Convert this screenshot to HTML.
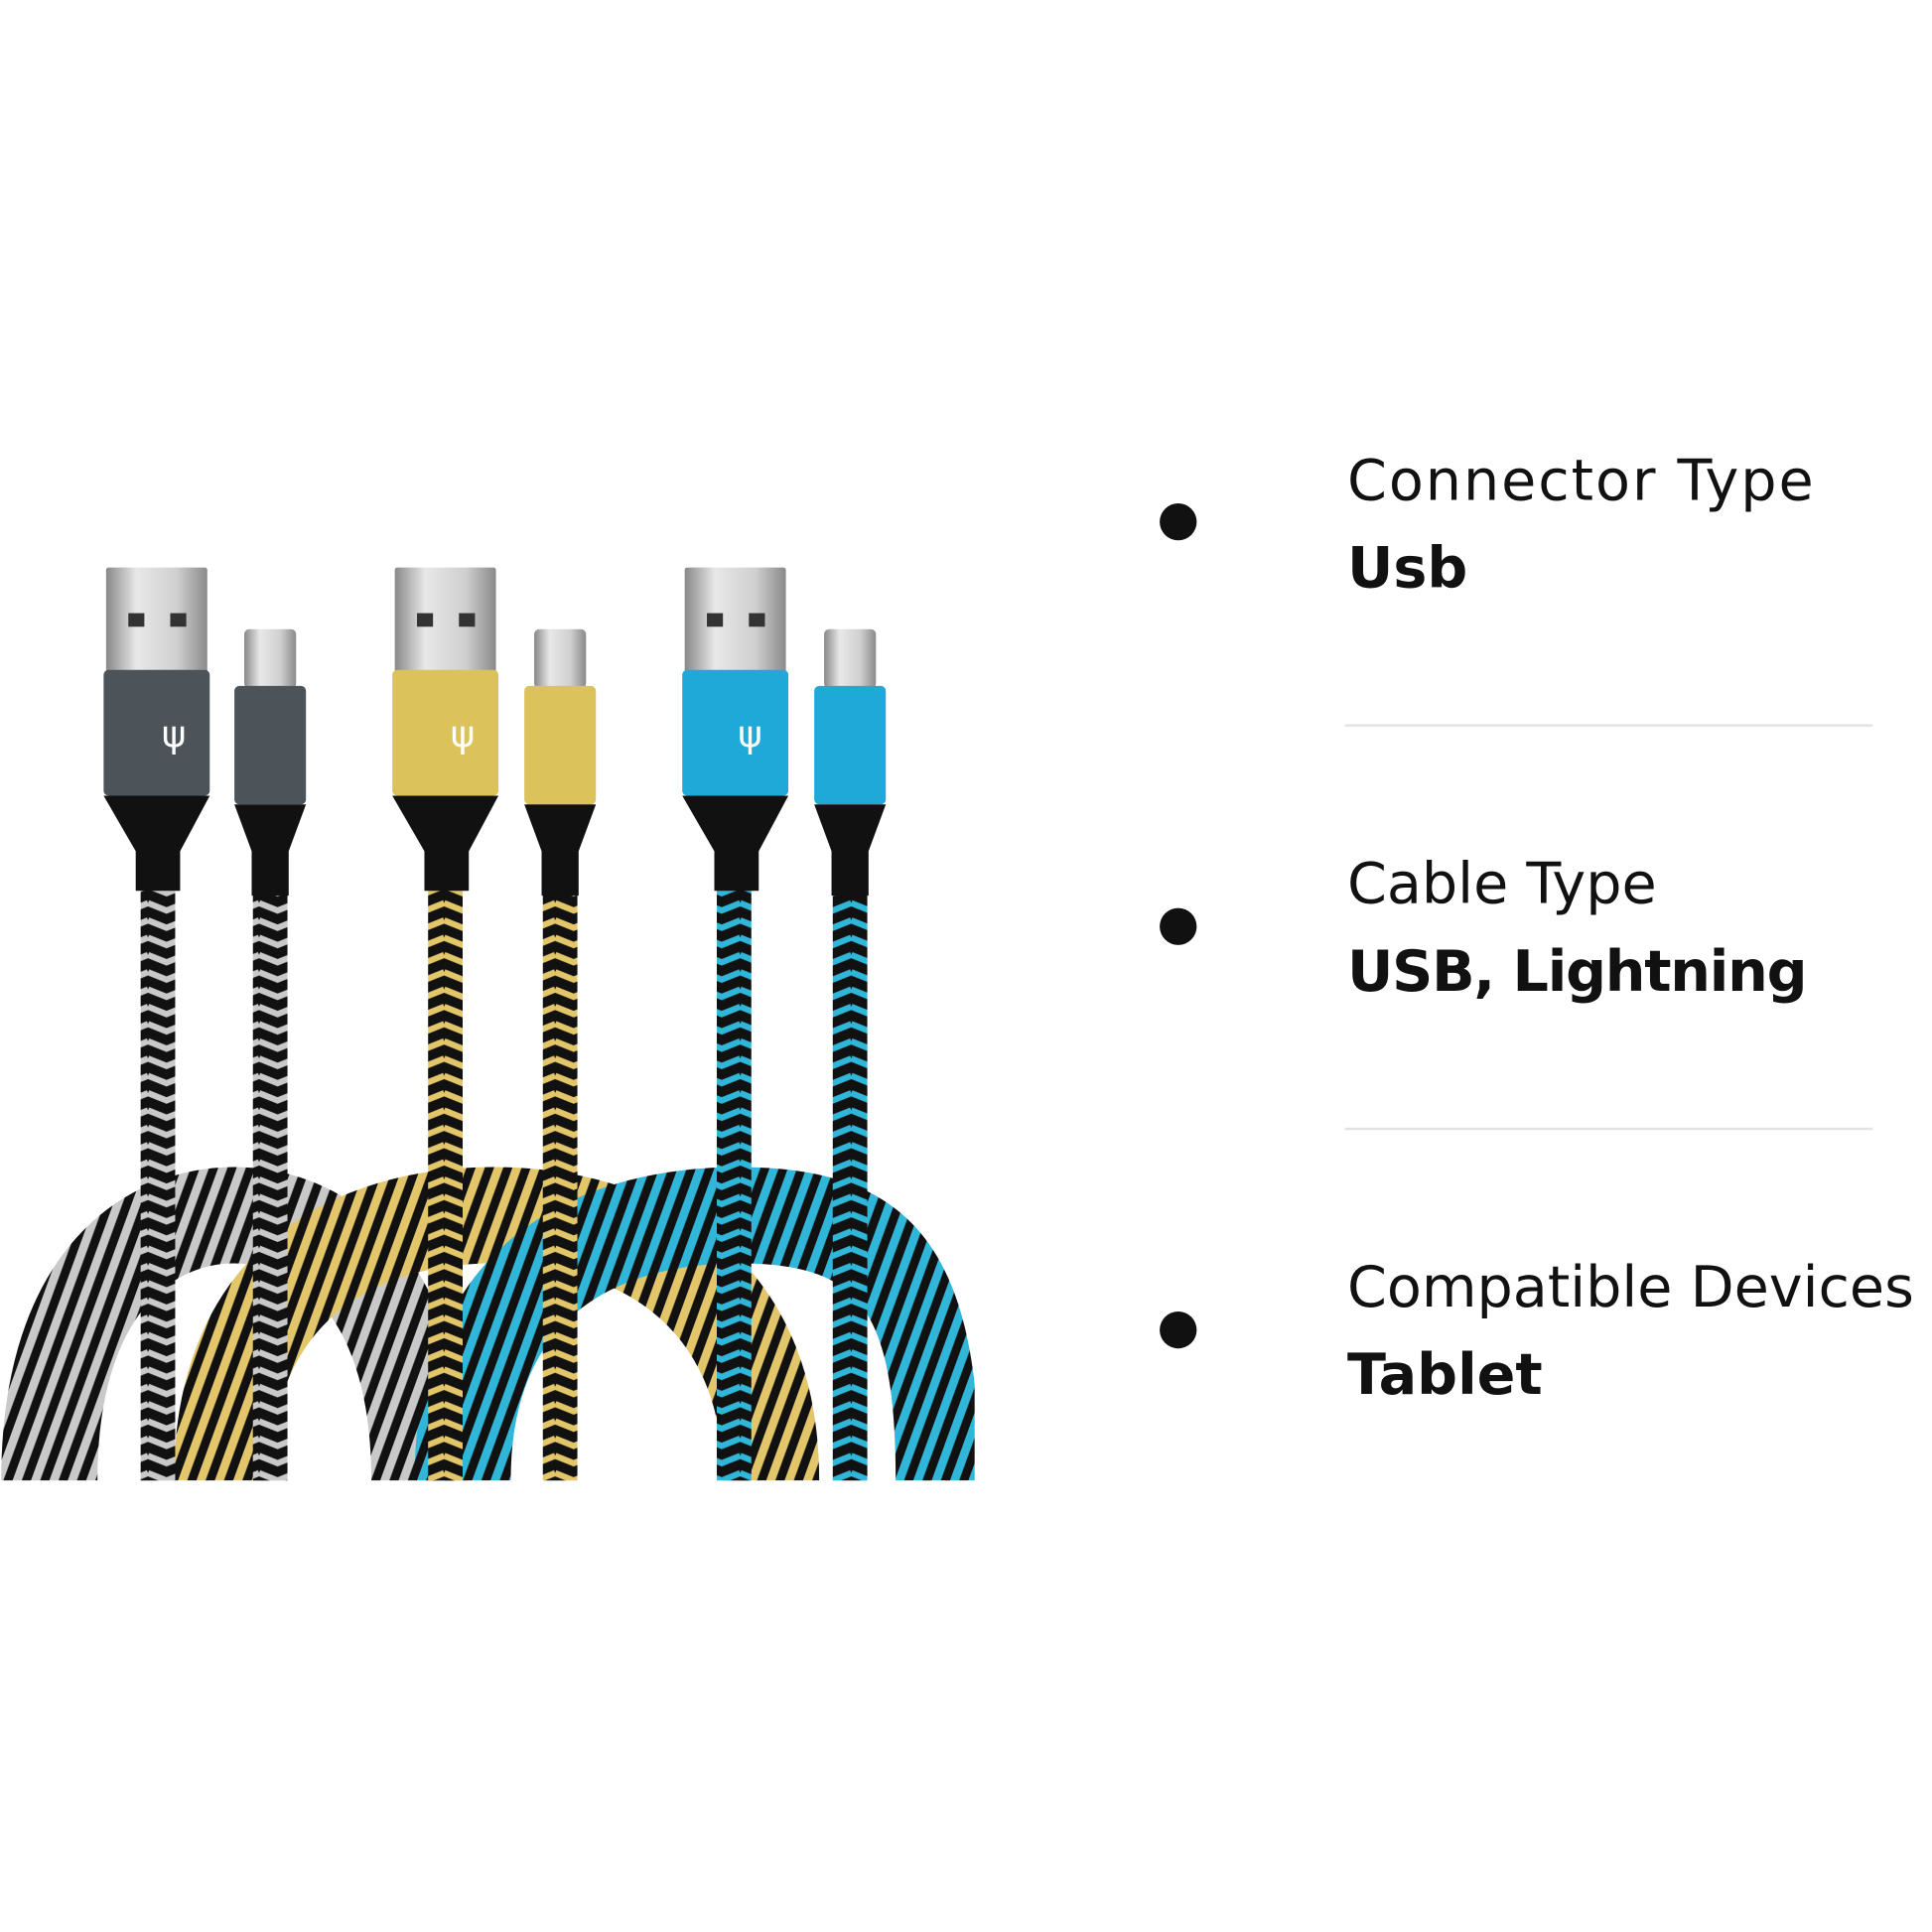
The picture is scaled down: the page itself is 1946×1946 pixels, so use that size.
<!DOCTYPE html>
<html><head><meta charset="utf-8"><style>
html,body{margin:0;padding:0;background:#fff;}
svg{display:block}
</style></head><body>
<svg width="1946" height="1946" viewBox="0 0 1566 1566" xmlns="http://www.w3.org/2000/svg">
<defs>
<pattern id="pg" width="30" height="14" patternUnits="userSpaceOnUse"><rect width="30" height="14" fill="#111"/><path d="M0 4 L15 10 L30 4" stroke="#c9c9c9" stroke-width="5" fill="none"/></pattern>
<pattern id="py" width="30" height="14" patternUnits="userSpaceOnUse"><rect width="30" height="14" fill="#111"/><path d="M0 4 L15 10 L30 4" stroke="#e3c66a" stroke-width="5" fill="none"/></pattern>
<pattern id="pb" width="30" height="14" patternUnits="userSpaceOnUse"><rect width="30" height="14" fill="#111"/><path d="M0 4 L15 10 L30 4" stroke="#2fb6d8" stroke-width="5" fill="none"/></pattern>
<pattern id="pgr" width="14" height="30" patternUnits="userSpaceOnUse" patternTransform="rotate(20)"><rect width="14" height="30" fill="#111"/><rect width="7" height="30" fill="#c9c9c9"/></pattern>
<pattern id="pyr" width="14" height="30" patternUnits="userSpaceOnUse" patternTransform="rotate(20)"><rect width="14" height="30" fill="#111"/><rect width="7" height="30" fill="#e3c66a"/></pattern>
<pattern id="pbr" width="14" height="30" patternUnits="userSpaceOnUse" patternTransform="rotate(20)"><rect width="14" height="30" fill="#111"/><rect width="7" height="30" fill="#2fb6d8"/></pattern>
<linearGradient id="metal" x1="0" x2="1"><stop offset="0" stop-color="#888"/><stop offset=".3" stop-color="#e8e8e8"/><stop offset=".7" stop-color="#cfcfcf"/><stop offset="1" stop-color="#8a8a8a"/></linearGradient>
<clipPath id="c"><rect x="0" y="375" width="790" height="825"/></clipPath>
</defs>
<g clip-path="url(#c)">
<g fill="none" stroke-width="28">
<path d="M15 1200 C15 1020 110 960 190 960 C270 960 365 1020 365 1200" stroke="url(#pgr)"/>
<path d="M40 1200 C40 1040 120 985 190 985 C260 985 340 1040 340 1200" stroke="url(#pgr)"/>
<path d="M65 1200 C65 1060 130 1010 190 1010 C250 1010 315 1060 315 1200" stroke="url(#pgr)"/>
<path d="M155 1200 C155 1020 280 960 400 960 C520 960 650 1020 650 1200" stroke="url(#pyr)"/>
<path d="M180 1200 C180 1040 290 985 400 985 C510 985 625 1040 625 1200" stroke="url(#pyr)"/>
<path d="M205 1200 C205 1060 300 1010 400 1010 C500 1010 600 1060 600 1200" stroke="url(#pyr)"/>
<path d="M350 1200 C350 1020 470 960 600 960 C730 960 780 1020 780 1200" stroke="url(#pbr)"/>
<path d="M375 1200 C375 1040 480 985 600 985 C720 985 760 1040 760 1200" stroke="url(#pbr)"/>
<path d="M400 1200 C400 1060 490 1010 600 1010 C710 1010 740 1060 740 1200" stroke="url(#pbr)"/>
</g>
<rect x="114" y="715" width="28" height="490" fill="url(#pg)"/>
<rect x="205" y="720" width="28" height="485" fill="url(#pg)"/>
<rect x="347" y="715" width="28" height="490" fill="url(#py)"/>
<rect x="440" y="720" width="28" height="485" fill="url(#py)"/>
<rect x="581" y="715" width="28" height="490" fill="url(#pb)"/>
<rect x="675" y="720" width="28" height="485" fill="url(#pb)"/>
</g>
<rect x="86" y="460" width="82" height="85" fill="url(#metal)" rx="2"/>
<rect x="104" y="497" width="13" height="11" fill="#333"/><rect x="138" y="497" width="13" height="11" fill="#333"/>
<rect x="84" y="543" width="86" height="102" fill="#4c5359" rx="4"/>
<path d="M84 645 H170 L146 690 V722 H110 V690 Z" fill="#111"/>
<rect x="198" y="510" width="42" height="48" fill="url(#metal)" rx="4"/>
<rect x="190" y="556" width="58" height="96" fill="#4c5359" rx="4"/>
<path d="M190 652 H248 L234 690 V726 H204 V690 Z" fill="#111"/>
<rect x="320" y="460" width="82" height="85" fill="url(#metal)" rx="2"/>
<rect x="338" y="497" width="13" height="11" fill="#333"/><rect x="372" y="497" width="13" height="11" fill="#333"/>
<rect x="318" y="543" width="86" height="102" fill="#dcc25a" rx="4"/>
<path d="M318 645 H404 L380 690 V722 H344 V690 Z" fill="#111"/>
<rect x="433" y="510" width="42" height="48" fill="url(#metal)" rx="4"/>
<rect x="425" y="556" width="58" height="96" fill="#dcc25a" rx="4"/>
<path d="M425 652 H483 L469 690 V726 H439 V690 Z" fill="#111"/>
<rect x="555" y="460" width="82" height="85" fill="url(#metal)" rx="2"/>
<rect x="573" y="497" width="13" height="11" fill="#333"/><rect x="607" y="497" width="13" height="11" fill="#333"/>
<rect x="553" y="543" width="86" height="102" fill="#1ea9d8" rx="4"/>
<path d="M553 645 H639 L615 690 V722 H579 V690 Z" fill="#111"/>
<rect x="668" y="510" width="42" height="48" fill="url(#metal)" rx="4"/>
<rect x="660" y="556" width="58" height="96" fill="#1ea9d8" rx="4"/>
<path d="M660 652 H718 L704 690 V726 H674 V690 Z" fill="#111"/>
<g fill="#fff" font-family="DejaVu Sans, sans-serif" font-size="30" text-anchor="middle"><text x="141" y="605">ψ</text><text x="375" y="605">ψ</text><text x="608" y="605">ψ</text></g>
<circle cx="955" cy="423" r="15" fill="#111"/>
<circle cx="955" cy="751" r="15" fill="#111"/>
<circle cx="955" cy="1078" r="15" fill="#111"/>
<rect x="1090" y="587" width="428" height="2" fill="#e3e3e3"/>
<rect x="1090" y="914" width="428" height="2" fill="#e3e3e3"/>
<g font-family="'DejaVu Sans', sans-serif" fill="#111" font-size="46">
<text x="1092" y="405" textLength="378">Connector Type</text>
<text x="1092" y="476" font-weight="bold">Usb</text>
<text x="1092" y="732">Cable Type</text>
<text x="1092" y="803" font-weight="bold" textLength="373">USB, Lightning</text>
<text x="1092" y="1059">Compatible Devices</text>
<text x="1092" y="1130" font-weight="bold">Tablet</text>
</g>
</svg>
</body></html>
